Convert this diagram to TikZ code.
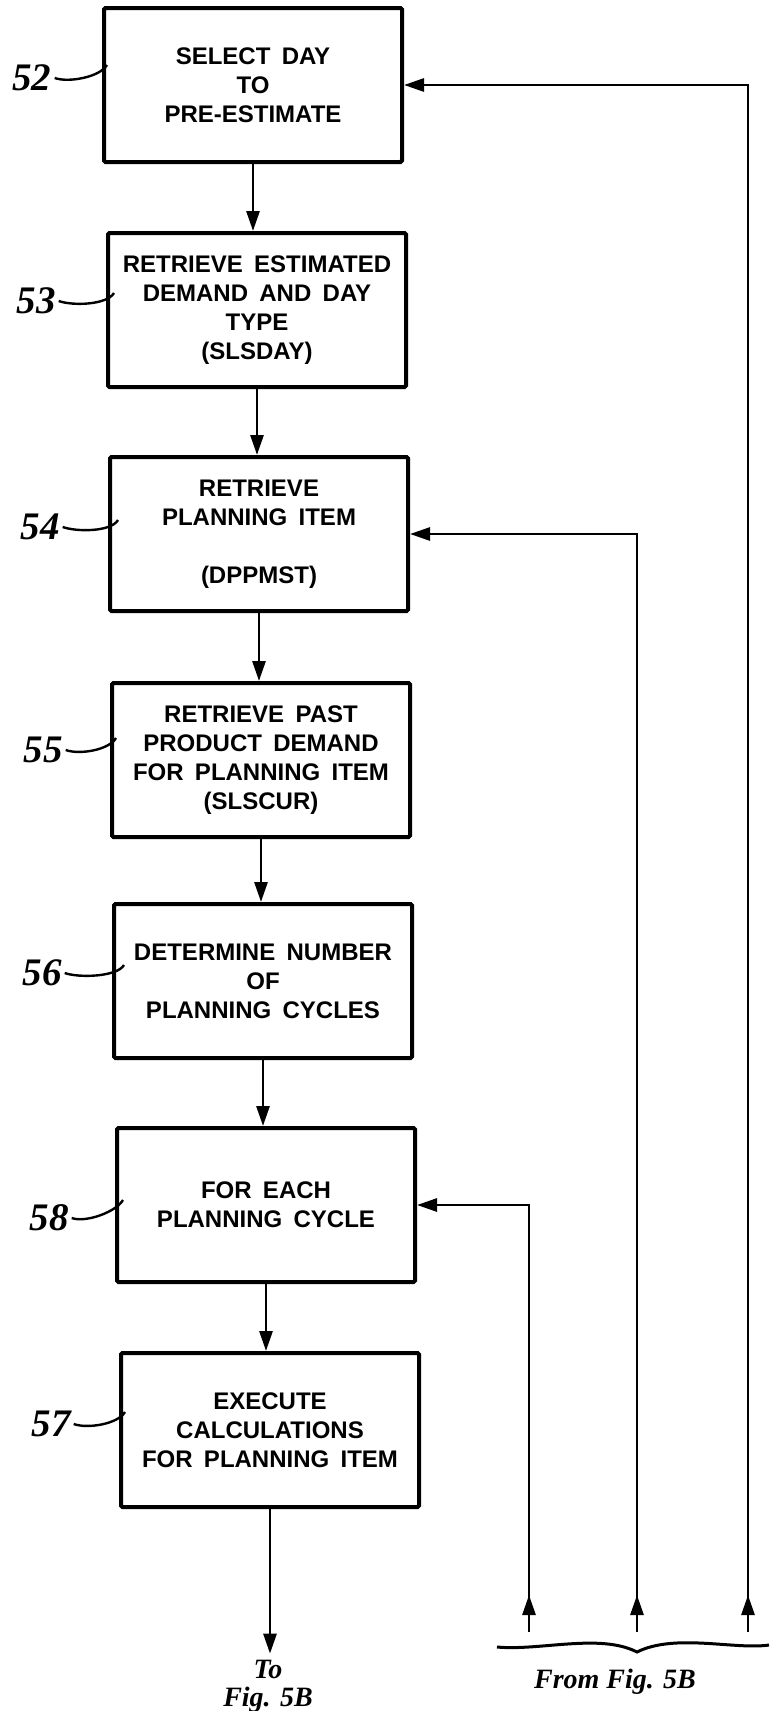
\documentclass[tikz,border=0pt]{standalone}
\usepackage{fontspec}
\setmainfont{Liberation Serif}
\newfontfamily\boxfont{Liberation Sans}[WordSpace=1.7]
\usetikzlibrary{arrows.meta}
\tikzset{
  flow box/.style={draw=black, line width=4pt, rounded corners=1.5pt,
    minimum width=298pt, minimum height=154pt, inner sep=2pt, align=center,
    font=\boxfont\bfseries\fontsize{24}{29}\selectfont},
  flow arrow/.style={-{Triangle[length=20pt,width=13pt]},line width=2.8pt},
  ref numeral/.style={font=\bfseries\itshape\fontsize{39}{39}\selectfont,inner sep=3pt},
  ref leader/.style={line width=2.4pt},
  fig note/.style={font=\bfseries\itshape\fontsize{28}{28}\selectfont,
    align=center,inner sep=0pt}
}
\newcommand{\flowBox}[4]{%
  \node[flow box] (#1) at (#2,#3) {#4};%
}
\newcommand{\refMark}[5]{%
  \node[ref numeral] (#1) at (#2,#3) {#4};%
  \draw[ref leader] (#1.east) .. controls +(14,5) and +(-7,12) .. (#5);%
}

\begin{document}
\begin{tikzpicture}[x=1pt,y=-1pt]
  \useasboundingbox (0,0) rectangle (769,1711);

  \flowBox{b52}{253}{85}{SELECT DAY\\TO\\PRE-ESTIMATE}
  \flowBox{b53}{257}{310}{RETRIEVE ESTIMATED\\DEMAND AND DAY\\TYPE\\(SLSDAY)}
  \flowBox{b54}{259}{534}{RETRIEVE\\PLANNING ITEM\\[29pt](DPPMST)}
  \flowBox{b55}{261}{760}{RETRIEVE PAST\\PRODUCT DEMAND\\FOR PLANNING ITEM\\(SLSCUR)}
  \flowBox{b56}{263}{981}{DETERMINE NUMBER\\OF\\PLANNING CYCLES}
  \flowBox{b58}{266}{1205}{FOR EACH\\PLANNING CYCLE}
  \flowBox{b57}{270}{1430}{EXECUTE\\CALCULATIONS\\FOR PLANNING ITEM}

  \refMark{n52}{32}{78}{52}{[shift={(5,-20)}]b52.west}
  \refMark{n53}{36}{301}{53}{[shift={(8,-17)}]b53.west}
  \refMark{n54}{40}{527}{54}{[shift={(10,-14)}]b54.west}
  \refMark{n55}{43}{750}{55}{[shift={(6,-22)}]b55.west}
  \refMark{n56}{42}{973}{56}{[shift={(12,-16)}]b56.west}
  \refMark{n58}{49}{1218}{58}{[shift={(8,-5)}]b58.west}
  \refMark{n57}{51}{1424}{57}{[shift={(6,-18)}]b57.west}

  \draw[flow arrow] (b52.south) -- (b52.south |- b53.north);
  \draw[flow arrow] (b53.south) -- (b53.south |- b54.north);
  \draw[flow arrow] (b54.south) -- (b54.south |- b55.north);
  \draw[flow arrow] (b55.south) -- (b55.south |- b56.north);
  \draw[flow arrow] (b56.south) -- (b56.south |- b58.north);
  \draw[flow arrow] (b58.south) -- (b58.south |- b57.north);

  % to and from the next sheet
  \node[fig note] (to5b) at (268,1686) {To\\Fig. 5B};
  \draw[flow arrow] (b57.south) -- ([yshift=6pt]b57.south |- to5b.north);

  \coordinate (ret58) at (529,1632);
  \coordinate (ret54) at (637,1632);
  \coordinate (ret52) at (748,1632);
  \draw[flow arrow] (ret58) |- (b58.east);
  \draw[flow arrow] (ret58) -- ++(0,-37);
  \draw[flow arrow] (ret54) |- (b54.east);
  \draw[flow arrow] (ret54) -- ++(0,-37);
  \draw[flow arrow] (ret52) |- (b52.east);
  \draw[flow arrow] (ret52) -- ++(0,-37);

  \draw[line width=3pt] (497,1647) .. controls (540,1651) and (600,1633) .. (637,1652)
    .. controls (675,1633) and (735,1650) .. (769,1645);
  \node[fig note] (from5b) at (615,1682) {From Fig. 5B};
\end{tikzpicture}
\end{document}
